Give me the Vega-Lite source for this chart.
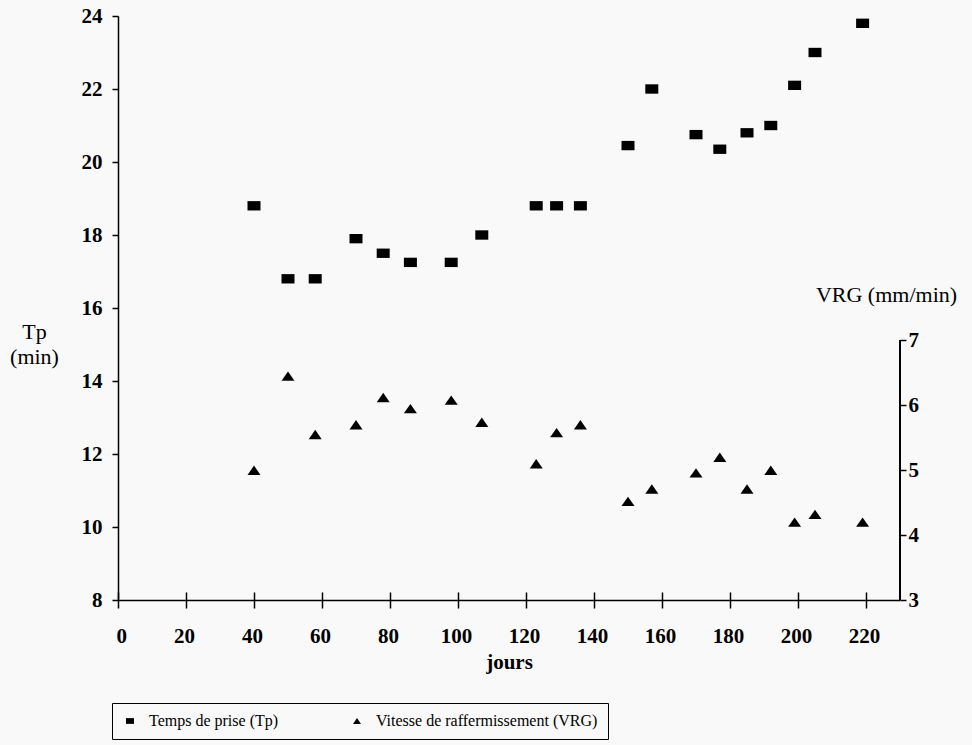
{
  "$schema": "https://vega.github.io/schema/vega-lite/v6.json",
  "width": 782,
  "height": 584,
  "autosize": {"type": "none"},
  "padding": {"left": 118, "top": 16, "right": 72, "bottom": 145},
  "background": "#f9f9f9",
  "config": {
    "view": {"stroke": null},
    "font": "Liberation Serif",
    "axis": {
      "grid": false,
      "domainColor": "black",
      "tickColor": "black",
      "labelColor": "black",
      "titleColor": "black",
      "labelFont": "Liberation Serif",
      "titleFont": "Liberation Serif",
      "domainWidth": 1.5,
      "tickWidth": 1.5
    }
  },
  "data": {
    "values": [
      {"jours": 40, "Tp": 18.8, "VRG": 5.0},
      {"jours": 50, "Tp": 16.8, "VRG": 6.45},
      {"jours": 58, "Tp": 16.8, "VRG": 5.55},
      {"jours": 70, "Tp": 17.9, "VRG": 5.7},
      {"jours": 78, "Tp": 17.5, "VRG": 6.12},
      {"jours": 86, "Tp": 17.25, "VRG": 5.95},
      {"jours": 98, "Tp": 17.25, "VRG": 6.08},
      {"jours": 107, "Tp": 18.0, "VRG": 5.74},
      {"jours": 123, "Tp": 18.8, "VRG": 5.1},
      {"jours": 129, "Tp": 18.8, "VRG": 5.58},
      {"jours": 136, "Tp": 18.8, "VRG": 5.7},
      {"jours": 150, "Tp": 20.45, "VRG": 4.52},
      {"jours": 157, "Tp": 22.0, "VRG": 4.71},
      {"jours": 170, "Tp": 20.75, "VRG": 4.96},
      {"jours": 177, "Tp": 20.35, "VRG": 5.2},
      {"jours": 185, "Tp": 20.8, "VRG": 4.71},
      {"jours": 192, "Tp": 21.0, "VRG": 5.0},
      {"jours": 199, "Tp": 22.1, "VRG": 4.2},
      {"jours": 205, "Tp": 23.0, "VRG": 4.32},
      {"jours": 219, "Tp": 23.8, "VRG": 4.2}
    ]
  },
  "layer": [
    {
      "mark": {"type": "point", "filled": true, "color": "black", "opacity": 1, "size": 169},
      "encoding": {
        "x": {
          "field": "jours", "type": "quantitative",
          "scale": {"domain": [0, 230], "nice": false},
          "axis": {
            "orient": "bottom",
            "values": [0, 20, 40, 60, 80, 100, 120, 140, 160, 180, 200, 220],
            "tickSize": 8,
            "labelPadding": 17,
            "labelFontSize": 21,
            "labelFontWeight": "bold",
            "labelOffset": -2,
            "title": "jours",
            "titleFontSize": 21,
            "titleFontWeight": "bold",
            "titleBaseline": "alphabetic",
            "titleY": 68
          }
        },
        "y": {
          "field": "Tp", "type": "quantitative",
          "scale": {"domain": [8, 24], "nice": false},
          "axis": {
            "orient": "left",
            "values": [8, 10, 12, 14, 16, 18, 20, 22, 24],
            "tickSize": 6,
            "labelPadding": 10,
            "labelFontSize": 21,
            "labelFontWeight": "bold",
            "title": ["Tp", "(min)"],
            "titleAngle": 0,
            "titleAlign": "center",
            "titleBaseline": "alphabetic",
            "titleX": -84,
            "titleY": 322,
            "titleFontSize": 22,
            "titleFontWeight": "normal",
            "titleLineHeight": 25
          }
        },
        "shape": {
          "datum": "Temps de prise (Tp)",
          "type": "nominal",
          "scale": {
            "domain": ["Temps de prise (Tp)", "Vitesse de raffermissement (VRG)"],
            "range": ["M-1,-0.72H1V0.72H-1Z", "M0,-0.72L1,0.72L-1,0.72Z"]
          },
          "legend": {
            "orient": "none",
            "legendX": -6,
            "legendY": 687,
            "direction": "horizontal",
            "title": null,
            "strokeColor": "black",
            "padding": 10,
            "labelFont": "Liberation Serif",
            "labelFontSize": 16,
            "labelColor": "black",
            "labelLimit": 400,
            "symbolSize": 64,
            "labelOffset": 11,
            "columnPadding": 70
          }
        }
      }
    },
    {
      "layer": [
        {
          "mark": {"type": "point", "filled": true, "color": "black", "opacity": 1, "size": 169},
          "encoding": {
            "x": {
              "field": "jours", "type": "quantitative",
              "scale": {"domain": [0, 230], "nice": false},
              "axis": {
                "orient": "top",
                "offset": -584,
                "values": [0, 20, 40, 60, 80, 100, 120, 140, 160, 180, 200, 220],
                "tickSize": 8,
                "labels": false,
                "domain": false,
                "title": null
              }
            },
            "y": {
              "field": "VRG", "type": "quantitative",
              "scale": {"domain": [3, 12], "nice": false},
              "axis": {
                "orient": "right",
                "values": [3, 4, 5, 6, 7],
                "format": "d",
                "domain": false,
                "tickSize": 6,
                "labelPadding": 2,
                "labelFontSize": 21,
                "labelFontWeight": "bold",
                "title": "VRG (mm/min)",
                "titleAngle": 0,
                "titleAlign": "center",
                "titleBaseline": "alphabetic",
                "titleX": -14,
                "titleY": 285,
                "titleFontSize": 22,
                "titleFontWeight": "normal"
              }
            },
            "shape": {"datum": "Vitesse de raffermissement (VRG)", "type": "nominal"}
          }
        },
        {
          "mark": {"type": "rule", "color": "black", "strokeWidth": 1.5},
          "encoding": {
            "x": {"datum": 230, "type": "quantitative"},
            "y": {"datum": 3, "type": "quantitative"},
            "y2": {"datum": 7}
          }
        }
      ]
    }
  ],
  "resolve": {"scale": {"y": "independent"}, "axis": {"x": "independent"}}
}
